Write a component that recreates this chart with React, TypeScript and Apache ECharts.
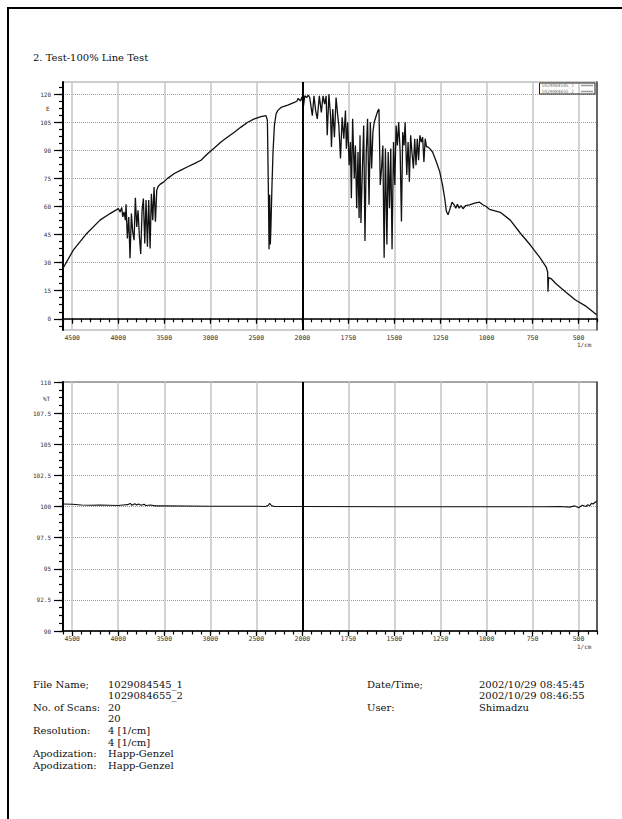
import React, { useEffect, useRef } from "react";
import * as echarts from "echarts";

const titleText = "2. Test-100% Line Test";
const xTickLabels = [4500, 4000, 3500, 3000, 2500, 2000, 1750, 1500, 1250, 1000, 750, 500];
const energyTicks = [0, 15, 30, 45, 60, 75, 90, 105, 120];
const transTicks = [90, 92.5, 95, 97.5, 100, 102.5, 105, 107.5, 110];
const legendNames = ["1029084545_1", "1029084655_2"];

// single-beam energy spectrum (wavenumber, value)
const energyWn = [
  4600, 4488, 4342, 4198, 4089, 4017, 3999, 3980, 3962, 3951, 3937, 3922, 3915, 3901, 3886, 3872, 3857, 3843, 3828,
  3814, 3799, 3785, 3770, 3756, 3741, 3727, 3712, 3698, 3683, 3669, 3654, 3640, 3625, 3611, 3596, 3582, 3567, 3546,
  3509, 3464, 3391, 3319, 3246, 3174, 3101, 3029, 2957, 2884, 2812, 2739, 2667, 2594, 2522, 2449, 2395, 2380, 2370,
  2362, 2355, 2348, 2341, 2330, 2319, 2304, 2286, 2268, 2232, 2159, 2087, 2060, 2045, 2033, 2020, 2005,
  2000, 1995, 1987, 1977, 1968, 1960, 1946, 1937, 1928, 1919, 1908, 1897, 1888, 1879, 1871, 1865, 1856, 1847, 1842,
  1835, 1826, 1817, 1808, 1802, 1793, 1784, 1775, 1766, 1761, 1754, 1746, 1739, 1734, 1727, 1718, 1712, 1705, 1698,
  1692, 1687, 1682, 1674, 1667, 1660, 1653, 1646, 1638, 1631, 1624, 1617, 1610, 1599, 1590, 1584, 1577, 1570, 1563,
  1556, 1549, 1541, 1534, 1527, 1520, 1513, 1505, 1498, 1491, 1484, 1477, 1469, 1462, 1455, 1448, 1442, 1433, 1426,
  1419, 1412, 1405, 1397, 1390, 1383, 1376, 1369, 1362, 1354, 1347, 1340, 1333, 1326, 1318, 1308, 1293, 1272, 1254,
  1239, 1227, 1218, 1209, 1200, 1187, 1176, 1167, 1158, 1149, 1138, 1128, 1113, 1092, 1065, 1038, 1020, 1002, 984,
  925, 871, 816, 762, 708, 675, 668, 666, 663, 650, 621, 572, 517, 463, 402,
];
const energyVal = [
  27.0, 36.7, 45.6, 52.7, 56.2, 58.3, 58.9, 57.1, 59.4, 54.4, 57.1, 52.7, 61.2, 42.9, 54.4, 32.3, 56.2, 46.4, 42.0,
  64.7, 49.1, 58.0, 43.8, 34.6, 58.0, 64.2, 40.2, 63.4, 38.5, 63.4, 37.6, 66.8, 52.7, 70.4, 51.8, 68.6, 70.7, 71.8,
  73.0, 75.0, 77.6, 79.4, 81.2, 82.9, 84.7, 88.2, 91.2, 94.4, 97.1, 99.7, 102.4, 105.0, 106.8, 108.0, 108.5, 106.0, 71.5,
  37.1, 66.2, 39.7, 50.3, 71.5, 89.1, 103.2, 109.4, 111.2, 112.9, 114.2, 115.6, 116.2, 117.8, 117.0, 116.4, 118.5,
  117.4, 112.9, 119.1, 118.2, 119.5, 118.2, 108.5, 119.1, 111.2, 106.8, 119.1, 110.3, 119.1, 114.7, 119.1, 98.0, 120.0, 108.5, 91.8,
  112.0, 97.0, 118.2, 108.5, 103.2, 85.6, 107.6, 96.2, 111.2, 90.9, 105.0, 82.0, 94.4, 64.4, 106.8, 75.0, 92.6, 59.1, 89.1,
  53.8, 98.0, 51.2, 80.3, 103.2, 41.5, 89.1, 106.8, 60.9, 105.0, 80.3, 99.7, 105.0, 108.5, 111.2, 112.0, 71.5, 80.3, 92.6,
  32.6, 90.9, 39.7, 89.1, 59.1, 90.9, 37.1, 94.4, 71.5, 103.2, 92.6, 105.0, 89.1, 52.0, 99.7, 92.6, 105.0, 76.8, 94.4,
  73.2, 98.0, 89.1, 80.3, 96.2, 82.0, 96.2, 84.7, 98.0, 94.4, 97.1, 83.8, 96.2, 91.8, 91.8, 90.9, 89.1, 83.8, 78.5,
  71.5, 64.4, 57.4, 55.6, 58.2, 62.3, 60.9, 59.1, 61.2, 59.1, 60.5, 58.8, 60.5, 60.9, 61.8, 62.3, 60.9, 60.0, 58.5,
  56.9, 52.7, 45.7, 39.4, 32.4, 27.5, 25.0, 14.5, 22.0, 21.5, 18.6, 14.4, 10.0, 6.9, 2.1,
];

// 100% line (%T)
const transWn = [
  4600, 4500, 4400, 4300, 4200, 4100, 4000, 3950, 3900, 3870, 3850, 3820, 3800, 3780, 3750, 3720, 3700, 3650, 3600,
  3500, 3000, 2500, 2400, 2370, 2355, 2345, 2330, 2300, 2000, 1500, 1000, 700, 600, 550, 520, 500, 480, 460, 450,
  440, 430, 420, 410, 400,
];
const transVal = [
  100.2, 100.18, 100.12, 100.1, 100.12, 100.1, 100.08, 100.12, 100.15, 100.25, 100.1, 100.22, 100.12, 100.2, 100.1,
  100.18, 100.08, 100.12, 100.05, 100.05, 100.02, 100.02, 100.0, 100.1, 100.25, 100.15, 100.05, 100.0, 100.0, 99.98,
  99.98, 99.98, 100.0, 99.95, 100.05, 99.9, 100.1, 100.0, 100.15, 100.05, 100.25, 100.2, 100.35, 100.4,
];

const infoLeftLabels = ["File Name;", "", "No. of Scans:", "", "Resolution:", "", "Apodization:", "Apodization:"];
const infoLeftValues = ["1029084545_1", "1029084655_2", "20", "20", "4 [1/cm]", "4 [1/cm]", "Happ-Genzel", "Happ-Genzel"];
const infoRightLabels = ["Date/Time;", "", "User:"];
const infoRightValues = ["2002/10/29 08:45:45", "2002/10/29 08:46:55", "Shimadzu"];

// split wavenumber scale: 4600..2000 at 500/unit, 2000..400 at 250/unit
const BREAK_T = 5.2;
const toT = (wn: number) => (wn >= 2000 ? (4600 - wn) / 500 : BREAK_T + (2000 - wn) / 250);
const fromT = (t: number) => (t <= BREAK_T + 1e-9 ? 4600 - 500 * t : 2000 - 250 * (t - BREAK_T));

const xMajor = xTickLabels.map(toT);
const xMinor: number[] = [];
for (let w = 4600; w > 2000; w -= 100) xMinor.push(toT(w));
for (let w = 2000; w >= 400; w -= 50) xMinor.push(toT(w));

const minorBetween = (ticks: number[], n: number, lo: number, hi: number) => {
  const step = (ticks[1] - ticks[0]) / n;
  const out: number[] = [];
  for (let v = ticks[0] - step * 10; v <= ticks[ticks.length - 1] + step * 10; v += step) {
    if (v >= lo - 1e-9 && v <= hi + 1e-9) out.push(Math.round(v * 1000) / 1000);
  }
  return out;
};

const E_MIN = -6;
const E_MAX = 126.5;
const T_MIN = 90;
const T_MAX = 110;

const MONO = "DejaVu Sans Mono";
const SERIF = "DejaVu Serif";

export default function App() {
  const ref = useRef<HTMLDivElement>(null);
  useEffect(() => {
    if (!ref.current) return;
    const chart = echarts.init(ref.current, undefined, { renderer: "svg" });

    const xFmt = (v: number) => String(Math.round(fromT(v)));
    const yFmt = (v: number) => (Math.abs(v % 1) < 1e-9 ? String(v) : v.toFixed(1));

    const makeX = (grid: number, major: boolean) => ({
      type: "value",
      gridIndex: grid,
      position: "bottom",
      min: 0,
      max: toT(400),
      axisLine: major ? { show: true, lineStyle: { color: "#000", width: 1.5 } } : { show: false },
      axisTick: {
        show: true,
        customValues: major ? xMajor : xMinor,
        length: major ? 5 : 3.5,
        lineStyle: { color: "#000", width: 1.2 },
      },
      axisLabel: major
        ? {
            show: true,
            customValues: xMajor,
            formatter: xFmt,
            fontSize: 6.5,
            fontFamily: MONO,
            color: "#333",
            margin: 4,
          }
        : { show: false },
      splitLine: major ? { show: true, lineStyle: { color: "#c6c6c6", width: 1.5, type: "solid" } } : { show: false },
    });

    const makeY = (grid: number, kind: "major" | "minor" | "frame", ticks: number[], min: number, max: number) => {
      if (kind === "frame") {
        return {
          type: "value",
          gridIndex: grid,
          position: "right",
          min,
          max,
          axisLine: { show: true, lineStyle: { color: "#444", width: 1.5 } },
          axisTick: { show: false },
          axisLabel: { show: false },
          splitLine: { show: false },
        };
      }
      const major = kind === "major";
      return {
        type: "value",
        gridIndex: grid,
        position: "left",
        min,
        max,
        axisLine: major ? { show: true, lineStyle: { color: "#000", width: 2 } } : { show: false },
        axisTick: {
          show: true,
          customValues: major ? ticks : minorBetween(ticks, 4, min, max),
          length: major ? 9 : 4,
          lineStyle: { color: "#000", width: 1.2 },
        },
        axisLabel: major
          ? { show: true, customValues: ticks, formatter: yFmt, fontSize: 6, fontFamily: MONO, color: "#333", margin: 12 }
          : { show: false },
        splitLine: major ? { show: true, lineStyle: { color: "#9a9a9a", width: 1, type: [1, 1] } } : { show: false },
      };
    };

    const breakLine = {
      silent: true,
      symbol: "none",
      label: { show: false },
      lineStyle: { color: "#000", width: 2, type: "solid" },
      data: [{ xAxis: toT(2000) }],
    };

    const rowY = (i: number) => 684 + i * 11.6;
    const textEl = (text: string, x: number, y: number, size = 10, family = SERIF, fill = "#111") => ({
      type: "text",
      x,
      y,
      silent: true,
      style: { text, fontSize: size, fontFamily: family, fill, verticalAlign: "middle", align: "left" },
    });

    const graphics: any[] = [
      {
        type: "rect",
        shape: { x: 8, y: 8, width: 650, height: 850 },
        style: { fill: "none", stroke: "#000", lineWidth: 2 },
        silent: true,
      },
      textEl(titleText, 33, 57),
      textEl("E", 46, 108, 6, MONO, "#333"),
      textEl("%T", 43, 398, 6, MONO, "#333"),
      textEl("1/cm", 577, 344, 6, MONO, "#333"),
      textEl("1/cm", 577, 646, 6, MONO, "#333"),
    ];
    infoLeftLabels.forEach((t, i) => t && graphics.push(textEl(t, 33, rowY(i))));
    infoLeftValues.forEach((t, i) => graphics.push(textEl(t, 108, rowY(i))));
    infoRightLabels.forEach((t, i) => t && graphics.push(textEl(t, 367, rowY(i))));
    infoRightValues.forEach((t, i) => graphics.push(textEl(t, 479, rowY(i))));

    chart.setOption({
      animation: false,
      backgroundColor: "#fff",
      grid: [
        { left: 63, right: 25, top: 82, height: 248, show: true, borderColor: "#9a9a9a", borderWidth: 1 },
        { left: 63, right: 25, top: 382, height: 249, show: true, borderColor: "#555", borderWidth: 1 },
      ],
      legend: {
        show: true,
        orient: "vertical",
        right: 27,
        top: 83,
        align: "right",
        icon: "rect",
        itemWidth: 12,
        itemHeight: 1.5,
        itemGap: 1,
        padding: [0, 2, 0, 2],
        borderColor: "#222",
        borderWidth: 1,
        textStyle: { fontSize: 4.5, fontFamily: MONO, color: "#777", padding: [0, 2, 0, 0] },
        data: legendNames.map((n) => ({ name: n, itemStyle: { color: "#999" } })),
      },
      xAxis: [makeX(0, true), makeX(0, false), makeX(1, true), makeX(1, false)],
      yAxis: [
        makeY(0, "major", energyTicks, E_MIN, E_MAX),
        makeY(0, "minor", energyTicks, E_MIN, E_MAX),
        makeY(0, "frame", energyTicks, E_MIN, E_MAX),
        makeY(1, "major", transTicks, T_MIN, T_MAX),
        makeY(1, "minor", transTicks, T_MIN, T_MAX),
        makeY(1, "frame", transTicks, T_MIN, T_MAX),
      ],
      series: [
        {
          name: legendNames[0],
          type: "line",
          xAxisIndex: 0,
          yAxisIndex: 0,
          showSymbol: false,
          symbol: "none",
          lineStyle: { color: "#111", width: 1.3 },
          itemStyle: { color: "#111" },
          data: energyWn.map((w, i) => [toT(w), energyVal[i]]),
          markLine: breakLine,
          z: 3,
        },
        {
          name: legendNames[1],
          type: "line",
          xAxisIndex: 2,
          yAxisIndex: 3,
          showSymbol: false,
          symbol: "none",
          lineStyle: { color: "#111", width: 1.1 },
          itemStyle: { color: "#111" },
          data: transWn.map((w, i) => [toT(w), transVal[i]]),
          markLine: breakLine,
          z: 3,
        },
      ],
      graphic: graphics,
    });

    return () => chart.dispose();
  }, []);

  return (
    <div
      ref={ref}
      style={{ position: "absolute", left: 0, top: 0, width: 622, height: 819, background: "#fff", overflow: "hidden" }}
    />
  );
}
